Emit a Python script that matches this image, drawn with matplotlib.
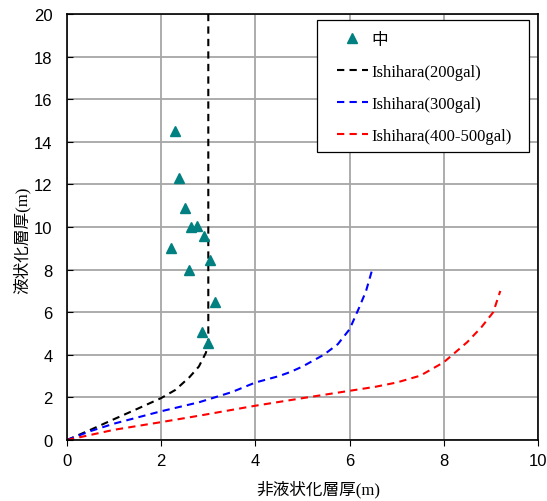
import matplotlib.pyplot as plt
from matplotlib.patches import Rectangle

# Observed points (non-liquefied thickness vs liquefied thickness)
obs_x = [2.29, 2.38, 2.50, 2.63, 2.76, 2.91, 2.20, 3.04, 2.59, 3.15, 2.87, 3.00]
obs_y = [14.5, 12.3, 10.9, 10.0, 10.05, 9.6, 9.0, 8.45, 8.0, 6.5, 5.05, 4.55]

# Ishihara boundary curves
ish200_x = [0, 0.5, 1.0, 1.5, 2.0, 2.3, 2.6, 2.8, 2.95, 3.0, 3.0]
ish200_y = [0, 0.48, 0.98, 1.47, 1.97, 2.35, 2.95, 3.45, 4.1, 4.6, 20]

ish300_x = [0, 0.5, 1.0, 2.0, 2.8, 3.5, 4.0, 4.5, 4.75, 5.0, 5.45, 5.75, 6.0, 6.2, 6.35, 6.48]
ish300_y = [0, 0.42, 0.77, 1.35, 1.77, 2.25, 2.7, 3.0, 3.2, 3.45, 4.0, 4.5, 5.2, 6.2, 7.0, 8.0]

ish400_x = [0, 1.0, 2.0, 2.8, 4.0, 5.1, 6.0, 6.55, 7.0, 7.5, 8.0, 8.5, 8.8, 9.05, 9.2]
ish400_y = [0, 0.48, 0.84, 1.14, 1.61, 2.0, 2.31, 2.5, 2.7, 3.02, 3.65, 4.6, 5.3, 6.0, 7.0]

x_ticks = [0, 2, 4, 6, 8, 10]
y_ticks = [0, 2, 4, 6, 8, 10, 12, 14, 16, 18, 20]

mixed = ['Liberation Serif', 'Noto Sans CJK JP']

fig = plt.figure(figsize=(5.47, 5.02), dpi=100)
ax = fig.add_axes([0.1225, 0.1215, 0.861, 0.8485])

ax.grid(True, color='#a6a6a6', lw=1.3, zorder=0)
ax.set_axisbelow(True)

dash = (0, (3.5, 2.5))
ax.plot(obs_x, obs_y, ls='none', marker='^', ms=7, color='#008080',
        label='中', zorder=5)
ax.plot(ish200_x, ish200_y, color='black', lw=1.5, ls=dash, label='Ishihara(200gal)')
ax.plot(ish300_x, ish300_y, color='blue', lw=1.5, ls=dash, label='Ishihara(300gal)')
ax.plot(ish400_x, ish400_y, color='red', lw=1.5, ls=dash, label='Ishihara(400-500gal)')

ax.set_xlim(0, 10)
ax.set_ylim(0, 20)
ax.set_xticks(x_ticks)
ax.set_yticks(y_ticks)
ax.tick_params(axis='x', direction='out', length=4, pad=5)
ax.tick_params(axis='y', direction='in', length=4, pad=10.5)
for lab in ax.get_xticklabels() + ax.get_yticklabels():
    lab.set_family('Liberation Sans')
    lab.set_fontsize(12)

for s in ax.spines.values():
    s.set_color('black')
    s.set_linewidth(1.2)

ax.set_xlabel('非液状化層厚(m)', family=mixed, fontsize=12)
ax.set_ylabel('液状化層厚(m)', family=mixed, fontsize=12)
ax.xaxis.set_label_coords(0.533, -0.094)
ax.yaxis.set_label_coords(-0.078, 0.472)

# legend frame drawn separately so the side padding can be wider than top/bottom
box = Rectangle((0.5795, 0.6952), 0.3876, 0.263, transform=fig.transFigure,
                facecolor='white', edgecolor='black', lw=0.9, zorder=6,
                clip_on=False)
ax.add_patch(box)

leg = ax.legend(loc='upper left', bbox_to_anchor=(0.616, 0.935),
                bbox_transform=fig.transFigure, frameon=False,
                prop={'family': mixed, 'size': 12}, handlelength=1.86,
                handletextpad=0.2, labelspacing=0.97, borderpad=0,
                borderaxespad=0)
leg.set_zorder(7)

fig.savefig('out.png', dpi=100)
